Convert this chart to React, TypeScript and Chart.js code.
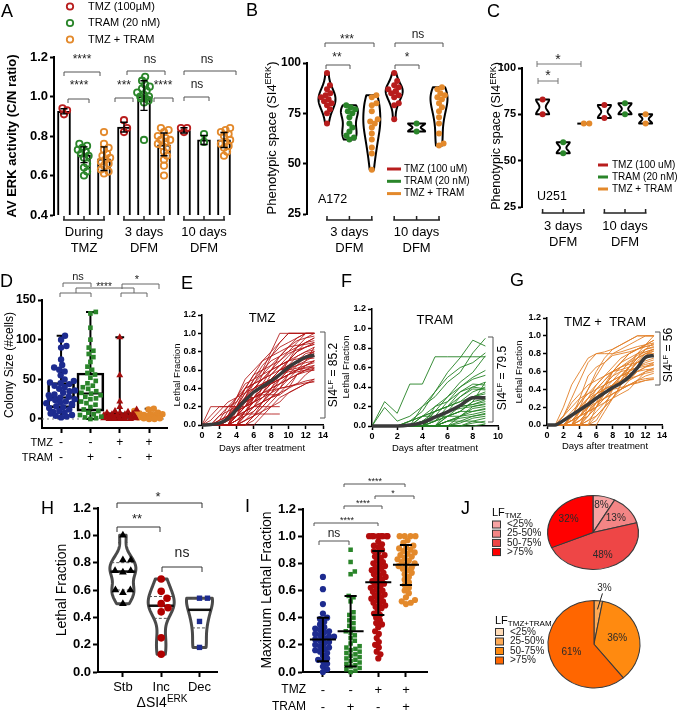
import React, { useEffect, useRef } from 'react';
import { Chart, registerables } from 'chart.js';

Chart.register(...registerables);

const FONT = "'Liberation Sans', Arial, Helvetica, sans-serif";
Chart.defaults.font.family = FONT;
Chart.defaults.color = '#000';

const RED = '#b81d1d';
const GREEN = '#2a852a';
const ORANGE = '#e3892b';
const NAVY = '#1d2b8f';
const TRIO = [RED, GREEN, ORANGE];

/* ---------------- A: average ERK activity ---------------- */
const aLegend = ['TMZ (100µM)', 'TRAM (20 nM)', 'TMZ + TRAM'];
const aGroups = [['During', 'TMZ'], ['3 days', 'DFM'], ['10 days', 'DFM']];
const aTicks = [0.4, 0.6, 0.8, 1.0, 1.2];
const aTmzDuring = [0.91, 0.94, 0.93];
const aTramDuring = [0.76, 0.75, 0.74, 0.73, 0.72, 0.72, 0.71, 0.7, 0.69, 0.66, 0.64, 0.62, 0.6];
const aComboDuring = [0.82, 0.76, 0.74, 0.73, 0.71, 0.7, 0.69, 0.68, 0.67, 0.66, 0.65, 0.63, 0.62, 0.61];
const aTmz3d = [0.82, 0.84, 0.88];
const aTram3d = [1.1, 1.08, 1.06, 1.05, 1.04, 1.03, 1.02, 1.01, 1.0, 1.0, 0.99, 0.99, 0.98, 0.97, 0.78];
const aCombo3d = [0.84, 0.83, 0.82, 0.8, 0.79, 0.78, 0.78, 0.77, 0.76, 0.75, 0.74, 0.72, 0.7, 0.68, 0.65, 0.6];
const aTmz10d = [0.82, 0.84, 0.84];
const aTram10d = [0.77, 0.81];
const aCombo10d = [0.84, 0.83, 0.82, 0.81, 0.8, 0.78, 0.77, 0.76, 0.75, 0.74, 0.72, 0.7];
const aMean = [0.925, 0.705, 0.685, 0.845, 1.0, 0.755, 0.828, 0.78, 0.78];
const aLow = [0.912, 0.665, 0.625, 0.82, 0.93, 0.7, 0.815, 0.757, 0.742];
const aHigh = [0.938, 0.745, 0.745, 0.87, 1.08, 0.815, 0.842, 0.803, 0.818];

/* ---------------- B: A172 phenotypic space ---------------- */
const bLegend = ['TMZ (100 uM)', 'TRAM (20 nM)', 'TMZ + TRAM'];
const bGroups = [['3 days', 'DFM'], ['10 days', 'DFM']];
const bTicks = [25, 50, 75, 100];
const bTmz3d = [95, 89, 87, 85, 84, 83, 82, 81, 80, 79, 77, 75, 70];
const bTram3d = [79, 78, 77, 76, 75, 73, 70, 68, 66, 64, 63, 62];
const bCombo3d = [84, 83, 80, 79, 76, 72, 71, 70, 68, 65, 62, 58, 55, 47];
const bTmz10d = [95, 91, 89, 88, 87, 86, 86, 85, 84, 83, 80, 79, 72];
const bTram10d = [70, 66];
const bCombo10d = [88, 87, 85, 84, 83, 82, 80, 78, 76, 73, 70, 65, 60, 59];

/* ---------------- C: U251 phenotypic space ---------------- */
const cTicks = [25, 50, 75, 100];
const cTmz3d = [83, 75];
const cTram3d = [60, 54];
const cCombo3d = [70, 70];
const cTmz10d = [80, 73];
const cTram10d = [81, 75];
const cCombo10d = [75, 70];

/* ---------------- D: colony size ---------------- */
const dTicks = [0, 50, 100, 150];
const dTmzSigns = ['-', '-', '+', '+'];
const dTramSigns = ['-', '+', '-', '+'];
const dControl = [105, 100, 92, 90, 75, 68, 65, 62, 60, 55, 50, 48, 46, 45, 44, 42, 40, 38, 36, 35, 33, 31, 30, 28, 27, 26, 25, 24, 22, 21, 20, 19, 18, 16, 15, 14, 12, 10, 9, 8, 7, 5, 4, 3, 2];
const dTram = [135, 133, 115, 100, 90, 86, 82, 78, 72, 66, 62, 58, 56, 52, 48, 45, 42, 40, 38, 35, 33, 32, 30, 28, 26, 25, 22, 20, 18, 15, 12, 10, 8, 6, 5, 3, 2, 1, 0];
const dTmz = [103, 55, 22, 15, 12, 10, 9, 8, 8, 7, 6, 6, 5, 5, 4, 4, 4, 3, 3, 3, 2, 2, 2, 1, 1, 1, 1, 0, 0, 0, 0, 0];
const dCombo = [13, 12, 10, 8, 7, 6, 6, 5, 5, 4, 4, 3, 3, 2, 2, 1, 1, 0, 0];
// min, q1, median, q3, max
const dControlBox = [2, 14, 27, 46, 105];
const dTramBox = [0, 10, 32, 58, 135];
const dTmzBox = [0, 0, 3, 8, 103];
const dComboBox = [0, 1, 4, 6, 13];

/* ---------------- E/F/G: lethal fraction over time (percent) ---------------- */
const lfTicks = [0, 0.2, 0.4, 0.6, 0.8, 1.0, 1.2];
const eDayTicks = [0, 2, 4, 6, 8, 10, 12, 14];
const fDayTicks = [0, 2, 4, 6, 8, 10];
const eTracesPct = [
  [0, 0, 0, 10, 20, 30, 40, 50, 60, 70, 80, 90, 100, 100],
  [0, 0, 5, 10, 20, 35, 45, 55, 65, 75, 85, 95, 100, 100],
  [0, 20, 20, 20, 25, 40, 55, 60, 70, 75, 80, 85, 90, 95],
  [0, 0, 0, 0, 10, 20, 40, 50, 55, 65, 70, 80, 85, 90],
  [0, 0, 10, 20, 30, 40, 45, 50, 60, 65, 70, 80, 85, 88],
  [0, 0, 0, 5, 15, 25, 35, 45, 50, 60, 70, 75, 80, 85],
  [0, 0, 0, 0, 0, 10, 30, 40, 50, 55, 60, 65, 70, 75],
  [0, 0, 0, 0, 20, 30, 30, 40, 45, 55, 60, 62, 65, 70],
  [0, 0, 0, 10, 25, 40, 55, 70, 80, 90, 100, 100, 100, 100],
  [0, 0, 0, 0, 5, 10, 20, 30, 40, 45, 50, 55, 60, 65],
  [0, 0, 0, 5, 10, 20, 25, 30, 35, 45, 55, 60, 62, 63],
  [0, 0, 0, 0, 0, 5, 15, 25, 35, 50, 60, 70, 75, 80],
  [0, 5, 15, 25, 30, 35, 40, 45, 50, 60, 65, 75, 80, 82],
  [0, 0, 0, 0, 10, 25, 30, 35, 38, 40, 42, 45, 48, 50],
  [0, 0, 0, 0, 0, 0, 10, 20, 30, 40, 55, 65, 75, 80],
  [0, 0, 0, 15, 30, 45, 50, 55, 60, 65, 70, 72, 75, 78],
  [0, 0, 0, 0, 5, 15, 25, 40, 55, 65, 75, 85, 90, 92],
  [0, 0, 0, 10, 15, 20, 25, 35, 45, 55, 65, 70, 72, 73],
  [0, 0, 0, 0, 0, 10, 20, 35, 50, 60, 70, 80, 90, 95],
  [0, 0, 10, 15, 20, 25, 30, 33, 33, 33, 40, 55, 60, 62],
  [0, 0, 0, 0, 15, 20, 25, 30, 40, 50, 55, 58, 60, 60],
  [0, 0, 0, 0, 0, 0, 5, 15, 25, 35, 45, 55, 65, 70],
  [0, 10, 20, 20, 20, 35, 50, 65, 75, 85, 90, 95, 100, 100],
  [0, 0, 0, 5, 10, 15, 20, 25, 30, 35, 40, 45, 55, 62],
  [0, 0, 0, 0, 10, 20, 30, 45, 60, 75, 85, 92, 95, 97],
  [0, 0, 0, 0, 0, 5, 10, 15, 20, 25, 35, 40, 45, 50],
  [0, 0, 0, 0, 10, 30, 50, 60, 65, 70, 78, 82, 85, 88],
  [0, 0, 0, 5, 20, 40, 45, 50, 55, 60, 62, 65, 68, 70],
  [0, 0, 0, 0, 0, 0, 0, 10, 20, 30, 35, 40, 45, 48],
  [0, 0, 0, 10, 20, 30, 40, 45, 50, 55, 58, 60, 63, 65],
  [0, 0, 0, 0, 5, 10, 15, 25, 40, 55, 70, 85, 95, 100],
  [0, 0, 5, 10, 15, 20, 30, 40, 50, 60, 65, 68, 72, 75],
  [0, 0, 0, 0, 0, 15, 25, 35, 45, 50, 55, 60, 70, 85],
  [0, 0, 0, 0, 20, 25, 30, 35, 40, 45, 50, 55, 58, 60],
  [0, 0, 0, 10, 30, 50, 60, 70, 75, 80, 85, 87, 88, 90],
  [0, 0, 0, 0, 0, 5, 10, 20, 30, 40, 50, 60, 65, 68],
  [0, 0, 0, 5, 15, 30, 45, 60, 80, 100, 100, 100, 100, 100],
  [0, 0, 0, 0, 10, 20, 35, 55, 75, 90, 100, 100, 100, 100],
  [0, 0, 0, 0, 10, 12, 12, 12, 12, 12],
  [0, 0, 0, 0, 0, 15, 20, 25, 30, 33],
  [0, 0, 0, 5, 10, 15, 20, 20, 20, 20],
  [0, 0, 5, 20, 20, 20, 30, 40, 45, 50, 55],
  [0, 0, 0, 0, 0, 0, 10, 25, 35, 40, 42, 44, 46, 47],
  [0, 0, 0, 0, 5, 15, 30, 40, 45, 50, 60, 70, 78, 80],
];
const eMean = [0, 0.005, 0.02, 0.07, 0.17, 0.27, 0.36, 0.42, 0.48, 0.55, 0.63, 0.69, 0.74, 0.76];

const fTracesPct = [
  [0, 25, 13, 43, 43, 71, 71, 71, 71, 71],
  [0, 19, 5, 10, 20, 30, 45, 55, 75, 90],
  [0, 0, 0, 5, 15, 35, 55, 70, 88, 82],
  [0, 0, 0, 0, 20, 35, 50, 60, 65, 75],
  [0, 0, 0, 0, 10, 20, 30, 45, 55, 72],
  [0, 0, 0, 5, 10, 15, 30, 40, 50, 57],
  [0, 0, 0, 0, 0, 10, 25, 40, 48, 52],
  [0, 0, 0, 0, 5, 15, 20, 30, 40, 45],
  [0, 0, 0, 0, 0, 5, 20, 35, 43, 42],
  [0, 0, 0, 0, 10, 15, 20, 25, 35, 40],
  [0, 0, 0, 0, 0, 5, 15, 30, 38, 37],
  [0, 0, 0, 0, 5, 10, 15, 20, 30, 35],
  [0, 0, 0, 0, 0, 0, 10, 20, 28, 30],
  [0, 0, 0, 0, 0, 5, 10, 15, 25, 28],
  [0, 0, 0, 0, 0, 10, 15, 20, 22, 25],
  [0, 0, 0, 0, 0, 0, 5, 10, 20, 22],
  [0, 0, 0, 0, 0, 0, 0, 10, 18, 20],
  [0, 0, 0, 0, 5, 5, 10, 15, 15, 18],
  [0, 0, 0, 0, 0, 0, 5, 10, 12, 15],
  [0, 0, 0, 0, 0, 0, 0, 5, 10, 13],
  [0, 0, 0, 0, 0, 0, 5, 8, 10, 12],
  [0, 0, 0, 0, 0, 0, 0, 3, 8, 10],
  [0, 0, 0, 0, 0, 0, 0, 0, 5, 8],
  [0, 0, 0, 0, 0, 0, 0, 0, 3, 5],
  [0, 0, 0, 0, 0, 0, 5, 5, 5, 3],
  [0, 0, 0, 5, 10, 10, 15, 18, 20, 23],
  [0, 0, 0, 0, 0, 15, 20, 25, 30, 33],
  [0, 0, 0, 0, 0, 0, 10, 15, 25, 45],
  [0, 0, 0, 0, 0, 0, 0, 0, 0, 2],
  [0, 0, 0, 0, 0, 10, 10, 10, 15, 17],
  [0, 0, 0, 0, 0, 20, 25, 35, 40, 38],
  [0, 0, 0, 0, 0, 0, 15, 20, 22, 27],
];
const fMean = [0, 0, 0, 0.01, 0.035, 0.09, 0.145, 0.21, 0.29, 0.29];

const gTracesPct = [
  [0, 0, 20, 45, 60, 75, 80, 82, 85, 90, 95, 100, 100, 100],
  [0, 0, 10, 30, 50, 70, 80, 80, 80, 82, 85, 88, 90, 92],
  [0, 0, 0, 10, 25, 40, 55, 70, 80, 85, 90, 95, 100, 100],
  [0, 0, 0, 5, 15, 25, 40, 50, 60, 70, 80, 85, 88, 90],
  [0, 0, 5, 15, 25, 35, 45, 55, 65, 75, 80, 85, 88, 90],
  [0, 0, 0, 0, 10, 20, 30, 45, 55, 65, 72, 78, 82, 85],
  [0, 0, 0, 10, 20, 30, 35, 40, 45, 55, 65, 75, 85, 92],
  [0, 0, 0, 0, 5, 15, 25, 35, 45, 55, 60, 65, 70, 73],
  [0, 0, 10, 20, 30, 35, 40, 45, 50, 55, 60, 65, 68, 70],
  [0, 0, 0, 0, 0, 10, 20, 30, 40, 50, 55, 60, 65, 67],
  [0, 0, 0, 5, 10, 15, 20, 30, 40, 50, 60, 70, 78, 83],
  [0, 0, 0, 0, 10, 25, 35, 40, 45, 50, 52, 55, 58, 60],
  [0, 0, 0, 0, 0, 5, 15, 25, 35, 40, 45, 50, 55, 58],
  [0, 0, 5, 10, 15, 20, 25, 30, 35, 40, 45, 50, 52, 53],
  [0, 0, 0, 0, 20, 40, 60, 75, 85, 90, 95, 100, 100, 100],
  [0, 0, 0, 0, 0, 0, 10, 20, 30, 40, 45, 48, 50, 52],
  [0, 0, 0, 5, 15, 30, 45, 55, 60, 65, 70, 75, 80, 80],
  [0, 0, 0, 0, 5, 10, 20, 40, 60, 70, 75, 80, 85, 87],
  [0, 0, 0, 0, 0, 15, 30, 40, 45, 48, 50, 55, 60, 62],
  [0, 0, 0, 10, 20, 25, 30, 35, 40, 50, 65, 75, 85, 88],
  [0, 0, 0, 0, 0, 0, 20, 35, 45, 55, 65, 75, 80, 83],
  [0, 0, 0, 0, 10, 20, 30, 35, 40, 42, 45, 47, 50, 51],
  [0, 0, 5, 10, 20, 30, 40, 50, 60, 65, 68, 70, 72, 75],
  [0, 0, 0, 0, 0, 10, 25, 45, 60, 70, 80, 85, 90, 95],
  [0, 0, 0, 5, 10, 20, 30, 40, 50, 60, 70, 80, 82, 85],
  [0, 0, 0, 0, 15, 25, 35, 45, 55, 60, 62, 64, 66, 68],
  [0, 0, 0, 0, 0, 5, 10, 20, 30, 45, 60, 72, 80, 85],
  [0, 0, 10, 25, 35, 45, 50, 55, 60, 62, 65, 70, 75, 78],
  [0, 0, 0, 0, 5, 15, 25, 30, 35, 40, 50, 60, 65, 70],
  [0, 0, 0, 0, 0, 0, 0, 15, 30, 45, 60, 70, 75, 80],
  [0, 0, 0, 5, 10, 15, 20, 25, 30, 35, 40, 50, 60, 64],
  [0, 0, 0, 0, 0, 20, 35, 45, 50, 55, 58, 60, 62, 63],
  [0, 0, 0, 8, 30, 55, 65, 70, 78, 80, 82, 85, 90, 95],
  [0, 0, 0, 0, 0, 0, 5, 20, 40, 55, 65, 80, 90, 100],
];
const gMean = [0, 0, 0.05, 0.11, 0.17, 0.23, 0.3, 0.36, 0.42, 0.47, 0.54, 0.64, 0.76, 0.78];

/* ---------------- H: lethal fraction by SI4 change ---------------- */
const hCategories = ['Stb', 'Inc', 'Dec'];
const hStable = [1.0, 0.82, 0.82, 0.74, 0.73, 0.74, 0.6, 0.6, 0.58, 0.5];
const hIncrease = [0.68, 0.59, 0.54, 0.5, 0.47, 0.44, 0.25, 0.13];
const hDecrease = [0.54, 0.54, 0.37, 0.18];

/* ---------------- I: maximum lethal fraction ---------------- */
const iTmzSigns = ['-', '-', '+', '+'];
const iTramSigns = ['-', '+', '-', '+'];
const iControl = [0.7, 0.61, 0.5, 0.43, 0.4, 0.39, 0.37, 0.35, 0.33, 0.32, 0.31, 0.3, 0.29, 0.28, 0.27, 0.26, 0.26, 0.25, 0.24, 0.23, 0.22, 0.21, 0.2, 0.19, 0.18, 0.17, 0.16, 0.15, 0.14, 0.12, 0.1, 0.09, 0.08, 0.06, 0.04, 0.02, 0.0];
const iTram = [0.9, 0.81, 0.74, 0.72, 0.56, 0.55, 0.52, 0.44, 0.42, 0.4, 0.38, 0.36, 0.34, 0.32, 0.3, 0.29, 0.27, 0.25, 0.23, 0.21, 0.19, 0.18, 0.17, 0.16, 0.15, 0.14, 0.13, 0.12, 0.11, 0.1, 0.09, 0.08, 0.07, 0.06, 0.05, 0.04, 0.03, 0.02, 0.01, 0.0];
const iTmz = [1, 1, 1, 1, 1, 1, 1, 1, 0.96, 0.94, 0.93, 0.92, 0.9, 0.89, 0.88, 0.86, 0.85, 0.84, 0.82, 0.81, 0.8, 0.79, 0.78, 0.77, 0.76, 0.75, 0.74, 0.73, 0.72, 0.71, 0.7, 0.69, 0.68, 0.67, 0.66, 0.65, 0.64, 0.63, 0.62, 0.61, 0.6, 0.59, 0.58, 0.57, 0.56, 0.55, 0.54, 0.53, 0.52, 0.51, 0.5, 0.49, 0.48, 0.47, 0.45, 0.43, 0.42, 0.4, 0.38, 0.36, 0.35, 0.33, 0.3, 0.28, 0.25, 0.22, 0.2, 0.18, 0.15, 0.13, 0.1];
const iCombo = [1.0, 1.0, 1.0, 1.0, 0.97, 0.95, 0.93, 0.92, 0.91, 0.9, 0.89, 0.88, 0.87, 0.86, 0.85, 0.84, 0.83, 0.82, 0.81, 0.8, 0.79, 0.78, 0.77, 0.76, 0.75, 0.73, 0.72, 0.7, 0.68, 0.66, 0.64, 0.62, 0.6, 0.58, 0.55, 0.53, 0.52, 0.51, 0.5];
const iMean = [0.24, 0.3, 0.66, 0.79];
const iLow = [0.08, 0.04, 0.42, 0.64];
const iHigh = [0.4, 0.56, 0.89, 0.935];

/* ---------------- J: lethal fraction distribution ---------------- */
const jBins = ['<25%', '25-50%', '50-75%', '>75%'];
const jTmzPct = [8, 13, 48, 32];
const jComboPct = [0, 3, 36, 61];
const jTmzColors = ['#f7a3a3', '#f38585', '#ee4646', '#ff0000'];
const jComboColors = ['#ffdcb8', '#ffaa55', '#ff8a10', '#ff6600'];

/* ================= helpers ================= */
type Rect = { x: number; y: number; w: number; h: number };
type Area = { l: number; t: number; r: number; b: number };
type Part = [string, string];

function txt(ctx: any, s: string, x: number, y: number, size: number, o: any = {}) {
  ctx.save();
  ctx.font = `${o.weight || 'normal'} ${size}px ${FONT}`;
  ctx.fillStyle = o.color || '#000';
  ctx.textAlign = o.align || 'center';
  ctx.textBaseline = 'middle';
  ctx.fillText(s, x, y);
  ctx.restore();
}

function rich(ctx: any, parts: Part[], x: number, y: number, size: number, o: any = {}) {
  ctx.save();
  ctx.translate(x, y);
  if (o.rotate) ctx.rotate(-Math.PI / 2);
  const small = Math.round(size * 0.7);
  const fontOf = (k: string) => `${o.weight || 'normal'} ${k === 'n' ? size : small}px ${FONT}`;
  let total = 0;
  parts.forEach(([s, k]) => { ctx.font = fontOf(k); total += ctx.measureText(s).width; });
  let cx = o.align === 'left' ? 0 : o.align === 'right' ? -total : -total / 2;
  ctx.fillStyle = o.color || '#000';
  ctx.textAlign = 'left';
  ctx.textBaseline = 'middle';
  parts.forEach(([s, k]) => {
    ctx.font = fontOf(k);
    const dy = k === 'sup' ? -size * 0.3 : k === 'sub' ? size * 0.25 : 0;
    ctx.fillText(s, cx, dy);
    cx += ctx.measureText(s).width;
  });
  ctx.restore();
}

function letter(ctx: any, s: string, x: number, y: number) {
  txt(ctx, s, x, y, 18, { align: 'left' });
}

function bracket(ctx: any, x1: number, x2: number, y: number, drop: number, color = '#555') {
  ctx.save();
  ctx.strokeStyle = color;
  ctx.lineWidth = 1;
  ctx.beginPath();
  ctx.moveTo(x1, y + drop);
  ctx.lineTo(x1, y);
  ctx.lineTo(x2, y);
  ctx.lineTo(x2, y + drop);
  ctx.stroke();
  ctx.restore();
}

function seg(ctx: any, x1: number, y1: number, x2: number, y2: number, color: string, lw: number, dash: number[] = []) {
  ctx.save();
  ctx.strokeStyle = color;
  ctx.lineWidth = lw;
  ctx.setLineDash(dash);
  ctx.beginPath();
  ctx.moveTo(x1, y1);
  ctx.lineTo(x2, y2);
  ctx.stroke();
  ctx.restore();
}

// significance label, y is the visual centre of the glyphs
function sig(ctx: any, label: string, x: number, y: number, size: number) {
  txt(ctx, label, x, y + (label.includes('*') ? 0.22 * size : 0), size, { color: '#222' });
}

function groupAxis(ctx: any, xs: number[], y: number, lines: string[], y1: number, y2: number, size: number) {
  const x1 = xs[0], x2 = xs[xs.length - 1];
  ctx.save();
  ctx.strokeStyle = '#222';
  ctx.lineWidth = 1.5;
  ctx.beginPath();
  ctx.moveTo(x1 - 1, y);
  ctx.lineTo(x2 + 1, y);
  xs.forEach((x) => { ctx.moveTo(x, y); ctx.lineTo(x, y - 4); });
  ctx.stroke();
  ctx.restore();
  txt(ctx, lines[0], (x1 + x2) / 2, y1, size);
  txt(ctx, lines[1], (x1 + x2) / 2, y2, size);
}

// beeswarm: horizontal offsets (x data units) so markers do not overlap, kept within a column width
function swarm(values: number[], pxPerY: number, diam: number, pxPerX: number, limit: number): number[] {
  const order = values.map((_, i) => i).sort((a, b) => values[a] - values[b]);
  const placed: { x: number; y: number }[] = [];
  const out: number[] = new Array(values.length).fill(0);
  let overflow = 0;
  for (const i of order) {
    const y = values[i] * pxPerY;
    const blocked: [number, number][] = [];
    for (const p of placed) {
      const dy = Math.abs(p.y - y);
      if (dy < diam) {
        const w = Math.sqrt(diam * diam - dy * dy);
        blocked.push([p.x - w, p.x + w]);
      }
    }
    const cands = [0];
    blocked.forEach(([a, b]) => cands.push(a, b));
    cands.sort((a, b) => Math.abs(a) - Math.abs(b) || b - a);
    let x = 0;
    for (const c of cands) {
      if (blocked.every(([a, b]) => c <= a + 1e-6 || c >= b - 1e-6)) { x = c; break; }
    }
    if (Math.abs(x) > limit) {
      overflow += 1;
      x = ((overflow * 0.618034) % 1) * 2 * limit - limit;
    }
    placed.push({ x, y });
    out[i] = x / pxPerX;
  }
  return out;
}

function quantile(vals: number[], q: number) {
  const s = [...vals].sort((a, b) => a - b);
  const pos = (s.length - 1) * q;
  const lo = Math.floor(pos), hi = Math.ceil(pos);
  return s[lo] + (s[hi] - s[lo]) * (pos - lo);
}

// kernel density outline truncated at the data range; returns half-width lookup (px)
function violin(ctx: any, h: any, xv: number, values: number[], factor: number, maxHalf: number, stroke: string, lw: number) {
  const lo = Math.min(...values), hi = Math.max(...values);
  const cx = h.X(xv);
  if (hi - lo < 1e-9) {
    seg(ctx, cx - maxHalf, h.Y(lo), cx + maxHalf, h.Y(lo), stroke, lw);
    return () => maxHalf;
  }
  const n = values.length;
  const mean = values.reduce((a, b) => a + b, 0) / n;
  const sd = Math.sqrt(values.reduce((a, b) => a + (b - mean) ** 2, 0) / (n - 1));
  const bw = n <= 2 ? 0.3 * (hi - lo) : factor * sd * Math.pow(n, -0.2);
  const dens = (y: number) => values.reduce((s, v) => s + Math.exp(-0.5 * ((y - v) / bw) ** 2), 0);
  const N = 90;
  const ys: number[] = [];
  const ds: number[] = [];
  for (let i = 0; i <= N; i++) {
    const y = lo + ((hi - lo) * i) / N;
    ys.push(y);
    ds.push(dens(y));
  }
  const dmax = Math.max(...ds);
  ctx.save();
  ctx.beginPath();
  ys.forEach((y, i) => {
    const px = cx - (ds[i] / dmax) * maxHalf;
    if (i === 0) ctx.moveTo(px, h.Y(y)); else ctx.lineTo(px, h.Y(y));
  });
  for (let i = N; i >= 0; i--) ctx.lineTo(cx + (ds[i] / dmax) * maxHalf, h.Y(ys[i]));
  ctx.closePath();
  ctx.fillStyle = '#fff';
  ctx.fill();
  ctx.strokeStyle = stroke;
  ctx.lineWidth = lw;
  ctx.lineJoin = 'round';
  ctx.stroke();
  ctx.restore();
  return (y: number) => (dens(y) / dmax) * maxHalf;
}

function segments(list: number[][]) {
  const data: any[] = [];
  list.forEach(([x1, y1, x2, y2]) => {
    data.push({ x: x1, y: y1 }, { x: x2, y: y2 }, { x: x2, y: null });
  });
  return data;
}

function lineSet(data: any[], color: string, width: number, order: number, extra: any = {}) {
  return { type: 'scatter', showLine: true, data, borderColor: color, borderWidth: width, pointRadius: 0, spanGaps: false, clip: false, order, ...extra };
}

function pointSet(values: number[], xc: number, offsets: number[], o: any) {
  return {
    type: 'scatter',
    data: values.map((v, k) => ({ x: xc + offsets[k], y: v })),
    pointStyle: o.shape || 'circle',
    pointRadius: o.r,
    pointBorderWidth: o.bw ?? 1,
    pointBorderColor: o.stroke,
    pointBackgroundColor: o.fill,
    clip: false,
    order: o.order ?? 1,
  };
}

function valueAxis(min: number, max: number, ticks: number[], width: number, size: number, digits: number, tickLen = 5, lw = 2, pad = 2) {
  return {
    type: 'linear',
    position: 'left',
    min,
    max,
    afterBuildTicks: (s: any) => { s.ticks = ticks.map((value) => ({ value })); },
    afterFit: (s: any) => { s.width = width; },
    ticks: { color: '#000', padding: pad, font: { family: FONT, size, weight: 'bold' }, callback: (v: any) => Number(v).toFixed(digits) },
    grid: { drawOnChartArea: false, drawTicks: true, tickLength: tickLen, tickWidth: lw, tickColor: '#000' },
    border: { display: true, color: '#000', width: lw },
  };
}

function hiddenAxis(min: number, max: number) {
  return { type: 'linear', min, max, display: false, offset: false, grid: { offset: false } };
}

function markAxis(min: number, max: number, ticks: number[], height: number, labels: string[] | null, size = 12, bold = false, tickLen = 5, lw = 2, pad = 3) {
  return {
    type: 'linear',
    position: 'bottom',
    min,
    max,
    offset: false,
    afterBuildTicks: (s: any) => { s.ticks = ticks.map((value) => ({ value })); },
    afterFit: (s: any) => { s.height = height; },
    ticks: {
      display: !!labels,
      color: '#000',
      padding: pad,
      maxRotation: 0,
      autoSkip: false,
      font: { family: FONT, size, weight: bold ? 'bold' : 'normal' },
      callback: (v: any) => (labels ? labels[ticks.indexOf(Number(v))] : ''),
    },
    grid: { drawOnChartArea: false, drawTicks: true, tickLength: tickLen, tickWidth: lw, tickColor: '#000', offset: false },
    border: { display: true, color: '#000', width: lw },
  };
}

function layoutFor(rect: Rect, area: Area, xH: number) {
  return { padding: { left: 0, top: area.t - rect.y, right: rect.x + rect.w - area.r, bottom: rect.y + rect.h - area.b - xH } };
}

function baseOptions(layout: any, scales: any) {
  return {
    responsive: false,
    animation: false,
    events: [],
    layout,
    plugins: { legend: { display: false }, tooltip: { enabled: false }, title: { display: false } },
    scales,
  };
}

// draws in page coordinates on top of a chart's own canvas
function overlay(rect: Rect, under: any, over: any) {
  const run = (chart: any, fn: any) => {
    if (!fn) return;
    const ctx = chart.ctx;
    const sx = chart.scales.x, sy = chart.scales.y;
    ctx.save();
    ctx.translate(-rect.x, -rect.y);
    fn(ctx, {
      chart,
      rect,
      X: (v: number) => (sx ? sx.getPixelForValue(v) : 0) + rect.x,
      Y: (v: number) => (sy ? sy.getPixelForValue(v) : 0) + rect.y,
    });
    ctx.restore();
  };
  return {
    id: 'overlay',
    beforeDatasetsDraw: (chart: any) => run(chart, under),
    afterDraw: (chart: any) => run(chart, over),
  };
}

/* ================= panels ================= */
const rectA: Rect = { x: 0, y: 0, w: 240, h: 256 };
const areaA: Area = { l: 54, t: 57, r: 234, b: 215 };

function makeA(canvas: HTMLCanvasElement) {
  const groups = [aTmzDuring, aTramDuring, aComboDuring, aTmz3d, aTram3d, aCombo3d, aTmz10d, aTram10d, aCombo10d];
  const pxX = (areaA.r - areaA.l) / 9;
  const pxY = (areaA.b - areaA.t) / 0.8;
  const datasets: any[] = [
    { type: 'bar', data: aMean.map((m, i) => ({ x: i, y: m })), backgroundColor: '#fff', borderColor: '#000', borderWidth: 2, barThickness: 13, order: 3 },
  ];
  groups.forEach((vals, i) => {
    const c = TRIO[i % 3];
    datasets.push(pointSet(vals, i, swarm(vals, pxY, 5, pxX, 7), { r: 3.2, bw: 1.8, stroke: c, fill: 'rgba(255,255,255,0)' }));
  });
  const err: number[][] = [];
  aMean.forEach((_, i) => {
    err.push([i, aLow[i], i, aHigh[i]], [i - 0.18, aHigh[i], i + 0.18, aHigh[i]], [i - 0.18, aLow[i], i + 0.18, aLow[i]]);
  });
  datasets.push(lineSet(segments(err), '#000', 1.4, 0));

  const draw = (ctx: any, h: any) => {
    letter(ctx, 'A', 1, 12);
    aLegend.forEach((s, i) => {
      const y = 6.5 + i * 16.5;
      ctx.save();
      ctx.beginPath();
      ctx.arc(70, y, 3.2, 0, Math.PI * 2);
      ctx.strokeStyle = TRIO[i];
      ctx.lineWidth = 1.8;
      ctx.stroke();
      ctx.restore();
      txt(ctx, s, 88, y, 11, { align: 'left' });
    });
    rich(ctx, [['AV ERK activity (C/N ratio)', 'n']], 12, 136, 13, { rotate: true, weight: 'bold' });
    aGroups.forEach((g, gi) => groupAxis(ctx, [h.X(gi * 3), h.X(gi * 3 + 1), h.X(gi * 3 + 2)], 220, g, 232, 248, 13));
    bracket(ctx, 64, 100, 72, 4); sig(ctx, '****', 82, 57, 12);
    bracket(ctx, 68, 89, 99, 4); sig(ctx, '****', 79, 83, 12);
    bracket(ctx, 127, 165, 71, 4); sig(ctx, 'ns', 150, 60, 12);
    bracket(ctx, 115, 133, 98, 4); sig(ctx, '***', 124, 83, 12);
    bracket(ctx, 154, 173, 98, 4); sig(ctx, '****', 163, 83, 12);
    bracket(ctx, 184, 236, 71, 4); sig(ctx, 'ns', 207, 60, 12);
    bracket(ctx, 184, 209, 97, 4); sig(ctx, 'ns', 197, 85, 12);
  };

  return new Chart(canvas, {
    type: 'scatter',
    data: { datasets },
    options: baseOptions(layoutFor(rectA, areaA, 0), {
      x: hiddenAxis(-0.5, 8.5),
      y: valueAxis(0.4, 1.2, aTicks, areaA.l - rectA.x, 13, 1, 4, 2, 2),
    }),
    plugins: [overlay(rectA, null, draw)],
  } as any);
}

const rectB: Rect = { x: 238, y: 0, w: 235, h: 256 };
const areaB: Area = { l: 307, t: 63, r: 450, b: 214 };
const bXMin = 1 - 20 / 22.4;
const bXMax = bXMin + (450 - 307) / 22.4;

function makeB(canvas: HTMLCanvasElement) {
  const groups = [bTmz3d, bTram3d, bCombo3d, bTmz10d, bTram10d, bCombo10d];
  const pxX = (areaB.r - areaB.l) / (bXMax - bXMin);
  const pxY = (areaB.b - areaB.t) / 75;
  const datasets: any[] = groups.map((vals, i) =>
    pointSet(vals, i + 1, swarm(vals, pxY, 5, pxX, 6), { r: 3, bw: 0, stroke: TRIO[i % 3], fill: TRIO[i % 3] }),
  );
  const under = (ctx: any, h: any) => {
    groups.forEach((vals, i) => violin(ctx, h, i + 1, vals, 0.9, 8.5, '#000', 2));
  };
  const draw = (ctx: any, h: any) => {
    letter(ctx, 'B', 246, 11);
    rich(ctx, [['Phenotypic space (SI4', 'n'], ['ERK', 'sup'], [')', 'n']], 272, 138, 13, { rotate: true });
    bGroups.forEach((g, gi) => groupAxis(ctx, [h.X(gi * 3 + 1), h.X(gi * 3 + 2), h.X(gi * 3 + 3)], 220, g, 232, 248, 13));
    txt(ctx, 'A172', 318, 200, 12.5, { align: 'left' });
    bLegend.forEach((s, i) => {
      const y = 169 + i * 12.3;
      seg(ctx, 387, y, 401, y, TRIO[i], 3);
      txt(ctx, s, 404, y, 10, { align: 'left' });
    });
    bracket(ctx, 325, 374, 43, 4); sig(ctx, '***', 347, 37, 12);
    bracket(ctx, 326, 350, 65, 4); sig(ctx, '**', 337, 55, 12);
    bracket(ctx, 395, 443, 43, 4); sig(ctx, 'ns', 418, 35, 12);
    bracket(ctx, 395, 419, 65, 4); sig(ctx, '*', 407, 55, 12);
  };
  return new Chart(canvas, {
    type: 'scatter',
    data: { datasets },
    options: baseOptions(layoutFor(rectB, areaB, 0), {
      x: hiddenAxis(bXMin, bXMax),
      y: valueAxis(25, 100, bTicks, areaB.l - rectB.x, 12, 0, 4, 2, 2),
    }),
    plugins: [overlay(rectB, under, draw)],
  } as any);
}

const rectC: Rect = { x: 460, y: 0, w: 217, h: 256 };
const areaC: Area = { l: 522, t: 68, r: 660, b: 207 };
const cXMax = (660 - 522) / 20.6;

function makeC(canvas: HTMLCanvasElement) {
  const groups = [cTmz3d, cTram3d, cCombo3d, cTmz10d, cTram10d, cCombo10d];
  const pxX = (areaC.r - areaC.l) / cXMax;
  const pxY = (areaC.b - areaC.t) / 75;
  const datasets: any[] = groups.map((vals, i) =>
    pointSet(vals, i + 1, swarm(vals, pxY, 5.5, pxX, 6), { r: 3, bw: 0, stroke: TRIO[i % 3], fill: TRIO[i % 3] }),
  );
  const under = (ctx: any, h: any) => {
    groups.forEach((vals, i) => violin(ctx, h, i + 1, vals, 0.9, 6.5, '#000', 2));
  };
  const capBar = (ctx: any, x1: number, x2: number, y: number) => {
    ctx.save();
    ctx.strokeStyle = '#777';
    ctx.lineWidth = 1;
    ctx.beginPath();
    ctx.moveTo(x1, y); ctx.lineTo(x2, y);
    ctx.moveTo(x1, y - 3); ctx.lineTo(x1, y + 3);
    ctx.moveTo(x2, y - 3); ctx.lineTo(x2, y + 3);
    ctx.stroke();
    ctx.restore();
  };
  const draw = (ctx: any, h: any) => {
    letter(ctx, 'C', 487, 12);
    rich(ctx, [['Phenotypic space (SI4', 'n'], ['ERK', 'sup'], [')', 'n']], 497, 136, 12.5, { rotate: true });
    [['3 days', 'DFM'], ['10 days', 'DFM']].forEach((g, gi) =>
      groupAxis(ctx, [h.X(gi * 3 + 1), h.X(gi * 3 + 2), h.X(gi * 3 + 3)], 213, g, 226, 242, 13),
    );
    txt(ctx, 'U251', 537, 197, 12.5, { align: 'left' });
    bLegend.forEach((s, i) => {
      const y = 165 + i * 12;
      seg(ctx, 598, y, 608, y, TRIO[i], 3);
      txt(ctx, s, 612, y, 10, { align: 'left' });
    });
    capBar(ctx, 537, 581, 64); sig(ctx, '*', 558, 57, 14);
    capBar(ctx, 538, 558, 81); sig(ctx, '*', 548, 73, 14);
  };
  return new Chart(canvas, {
    type: 'scatter',
    data: { datasets },
    options: baseOptions(layoutFor(rectC, areaC, 0), {
      x: hiddenAxis(0, cXMax),
      y: valueAxis(25, 100, cTicks, areaC.l - rectC.x, 11, 0, 4, 2, 2),
    }),
    plugins: [overlay(rectC, under, draw)],
  } as any);
}

const rectD: Rect = { x: 0, y: 262, w: 174, h: 208 };
const areaD: Area = { l: 42, t: 300, r: 167, b: 428 };
const dYMin = -11.35;

function makeD(canvas: HTMLCanvasElement) {
  const pxX = (areaD.r - areaD.l) / (4.61 - 0.35);
  const pxY = (areaD.b - areaD.t) / (150 - dYMin);
  const boxes = [dControlBox, dTramBox, dTmzBox, dComboBox];
  const datasets: any[] = [
    pointSet(dControl, 1, swarm(dControl, pxY, 5.6, pxX, 15), { r: 3.2, bw: 0, stroke: NAVY, fill: NAVY }),
    pointSet(dTram, 2, swarm(dTram, pxY, 5.6, pxX, 14), { r: 3.3, bw: 0, stroke: GREEN, fill: GREEN, shape: 'rect' }),
    pointSet(dTmz, 3, swarm(dTmz, pxY, 5.4, pxX, 17), { r: 4, bw: 0, stroke: '#a30d0d', fill: '#a30d0d', shape: 'triangle' }),
    pointSet(dCombo, 4, swarm(dCombo, pxY, 5.4, pxX, 15), { r: 3.2, bw: 0, stroke: ORANGE, fill: ORANGE }),
    {
      type: 'bar',
      data: boxes.map((b, i) => ({ x: i + 1, y: [b[1], b[3]] })),
      backgroundColor: 'rgba(255,255,255,0)',
      borderColor: '#000',
      borderWidth: 2,
      borderSkipped: false,
      barThickness: 27,
      order: 3,
    },
  ];
  const wh: number[][] = [];
  boxes.forEach((b, i) => {
    const x = i + 1;
    wh.push([x, b[0], x, b[1]], [x, b[3], x, b[4]], [x - 0.15, b[4], x + 0.15, b[4]], [x - 0.15, b[0], x + 0.15, b[0]], [x - 0.46, b[2], x + 0.46, b[2]]);
  });
  datasets.push(lineSet(segments(wh), '#000', 2, 2));
  datasets.push(lineSet([{ x: 0.35, y: 0 }, { x: 4.61, y: 0 }], '#777', 1, 4, { borderDash: [2, 3] }));

  const draw = (ctx: any, h: any) => {
    letter(ctx, 'D', 0, 282);
    rich(ctx, [['Colony Size (#cells)', 'n']], 10, 365, 12, { rotate: true });
    txt(ctx, 'TMZ', 53, 443, 11, { align: 'right' });
    txt(ctx, 'TRAM', 53, 458, 11, { align: 'right' });
    dTmzSigns.forEach((s, i) => txt(ctx, s, h.X(i + 1), 443, 12));
    dTramSigns.forEach((s, i) => txt(ctx, s, h.X(i + 1), 458, 12));
    bracket(ctx, 63, 91, 283, 4, '#666'); sig(ctx, 'ns', 78, 277, 11);
    bracket(ctx, 60, 91, 293, 4, '#666');
    bracket(ctx, 121, 147, 293, 4, '#666');
    seg(ctx, 76, 293, 76, 288, '#666', 1);
    seg(ctx, 134, 293, 134, 288, '#666', 1);
    seg(ctx, 76, 288, 134, 288, '#666', 1);
    sig(ctx, '****', 104, 285, 10);
    bracket(ctx, 122, 159, 284, 5, '#666'); sig(ctx, '*', 137, 278, 11);
  };
  return new Chart(canvas, {
    type: 'scatter',
    data: { datasets },
    options: baseOptions(layoutFor(rectD, areaD, 6), {
      x: markAxis(0.35, 4.61, [1, 2, 3, 4], 6, null),
      y: valueAxis(dYMin, 150, dTicks, areaD.l - rectD.x, 12, 0, 4, 2, 2),
    }),
    plugins: [overlay(rectD, null, draw)],
  } as any);
}

function makeTraces(canvas: HTMLCanvasElement, rect: Rect, area: Area, xMax: number, dayTicks: number[], traces: number[][], mean: number[], color: string, draw: any) {
  const datasets: any[] = traces.map((tr) =>
    lineSet(tr.map((v, d) => ({ x: d, y: v / 100 })), color, 1, 1, { clip: 4 }),
  );
  datasets.push(lineSet(mean.map((v, d) => ({ x: d, y: v })), '#3a3a3a', 3.5, 0, { cubicInterpolationMode: 'monotone' }));
  return new Chart(canvas, {
    type: 'scatter',
    data: { datasets },
    options: baseOptions(layoutFor(rect, area, 16), {
      x: markAxis(0, xMax, dayTicks, 16, dayTicks.map(String), 9, true, 4, 1.5, 1),
      y: valueAxis(0, 1.2, lfTicks, area.l - rect.x, 9, 1, 4, 1.5, 2),
    }),
    plugins: [overlay(rect, null, draw)],
  } as any);
}

function sideBracket(ctx: any, x: number, y1: number, y2: number) {
  ctx.save();
  ctx.strokeStyle = '#555';
  ctx.lineWidth = 1;
  ctx.beginPath();
  ctx.moveTo(x - 5, y1); ctx.lineTo(x, y1); ctx.lineTo(x, y2); ctx.lineTo(x - 5, y2);
  ctx.stroke();
  ctx.restore();
}

const rectE: Rect = { x: 172, y: 265, w: 168, h: 205 };
const areaE: Area = { l: 202, t: 315, r: 323, b: 425 };
function makeE(canvas: HTMLCanvasElement) {
  return makeTraces(canvas, rectE, areaE, 14, eDayTicks, eTracesPct, eMean, 'rgba(178,20,20,0.85)', (ctx: any) => {
    letter(ctx, 'E', 181, 284);
    txt(ctx, 'TMZ', 262, 318, 13);
    rich(ctx, [['Lethal Fraction', 'n']], 177, 375, 9.5, { rotate: true });
    txt(ctx, 'Days after treatment', 262, 448, 9.5);
    sideBracket(ctx, 325, 332, 418);
    rich(ctx, [['SI4', 'n'], ['LF', 'sup'], [' = 85.2', 'n']], 334, 375, 12, { rotate: true });
  });
}

const rectF: Rect = { x: 340, y: 265, w: 170, h: 205 };
const areaF: Area = { l: 372, t: 309, r: 498, b: 426 };
function makeF(canvas: HTMLCanvasElement) {
  return makeTraces(canvas, rectF, areaF, 10, fDayTicks, fTracesPct, fMean, 'rgba(36,130,36,0.9)', (ctx: any) => {
    letter(ctx, 'F', 341, 282);
    txt(ctx, 'TRAM', 435, 320, 13);
    rich(ctx, [['Lethal Fraction', 'n']], 346, 367, 9.5, { rotate: true });
    txt(ctx, 'Days after treatment', 435, 448, 9.5);
    sideBracket(ctx, 493, 337, 422);
    rich(ctx, [['SI4', 'n'], ['LF', 'sup'], [' = 79.5', 'n']], 503, 378, 12, { rotate: true });
  });
}

const rectG: Rect = { x: 510, y: 265, w: 167, h: 205 };
const areaG: Area = { l: 547, t: 318, r: 662, b: 425 };
function makeG(canvas: HTMLCanvasElement) {
  return makeTraces(canvas, rectG, areaG, 14, eDayTicks, gTracesPct, gMean, 'rgba(226,128,40,0.9)', (ctx: any) => {
    letter(ctx, 'G', 510, 281);
    txt(ctx, 'TMZ +  TRAM', 605, 322, 13);
    rich(ctx, [['Lethal Fraction', 'n']], 519, 372, 9.5, { rotate: true });
    txt(ctx, 'Days after treatment', 605, 446, 9.5);
    sideBracket(ctx, 660, 332, 385);
    rich(ctx, [['SI4', 'n'], ['LF', 'sup'], [' = 56', 'n']], 669, 355, 12, { rotate: true });
  });
}

const rectH: Rect = { x: 0, y: 470, w: 222, h: 244 };
const areaH: Area = { l: 98, t: 508, r: 218, b: 672 };
function makeH(canvas: HTMLCanvasElement) {
  const pxX = (areaH.r - areaH.l) / (3.47 - 0.35);
  const pxY = (areaH.b - areaH.t) / 1.2;
  const groups = [hStable, hIncrease, hDecrease];
  const datasets: any[] = [
    pointSet(hStable, 1, swarm(hStable, pxY, 8, pxX, 12), { r: 4.5, bw: 0, stroke: '#000', fill: '#000', shape: 'triangle' }),
    pointSet(hIncrease, 2, swarm(hIncrease, pxY, 8, pxX, 11), { r: 3.8, bw: 0, stroke: '#b00000', fill: '#b00000' }),
    pointSet(hDecrease, 3, swarm(hDecrease, pxY, 8, pxX, 11), { r: 3.8, bw: 0, stroke: NAVY, fill: NAVY, shape: 'rect' }),
  ];
  const under = (ctx: any, h: any) => {
    groups.forEach((vals, i) => {
      const half = violin(ctx, h, i + 1, vals, 0.7, 13, '#4a4a4a', 3);
      const cx = h.X(i + 1);
      const med = quantile(vals, 0.5);
      [0.25, 0.75].forEach((q) => {
        const v = quantile(vals, q);
        seg(ctx, cx - half(v), h.Y(v), cx + half(v), h.Y(v), '#555', 1, [3, 2]);
      });
      seg(ctx, cx - half(med), h.Y(med), cx + half(med), h.Y(med), '#111', 2.5);
    });
  };
  const draw = (ctx: any) => {
    letter(ctx, 'H', 41, 509);
    rich(ctx, [['Lethal Fraction', 'n']], 62, 590, 14, { rotate: true });
    rich(ctx, [['ΔSI4', 'n'], ['ERK', 'sup']], 162, 703, 14);
    bracket(ctx, 117, 202, 503, 5, '#333'); sig(ctx, '*', 158, 495, 13);
    bracket(ctx, 117, 160, 527, 5, '#333'); sig(ctx, '**', 137, 517, 13);
    bracket(ctx, 162, 202, 567, 5, '#333'); sig(ctx, 'ns', 182, 553, 14);
  };
  return new Chart(canvas, {
    type: 'scatter',
    data: { datasets },
    options: baseOptions(layoutFor(rectH, areaH, 24), {
      x: markAxis(0.35, 3.47, [1, 2, 3], 24, hCategories, 13),
      y: valueAxis(0, 1.2, lfTicks, areaH.l - rectH.x, 13, 1, 5, 2, 2),
    }),
    plugins: [overlay(rectH, under, draw)],
  } as any);
}

const rectI: Rect = { x: 222, y: 470, w: 218, h: 244 };
const areaI: Area = { l: 303, t: 509, r: 427, b: 672 };
function makeI(canvas: HTMLCanvasElement) {
  const pxX = (areaI.r - areaI.l) / (4.76 - 0.28);
  const pxY = (areaI.b - areaI.t) / 1.2;
  const datasets: any[] = [
    pointSet(iControl, 1, swarm(iControl, pxY, 5, pxX, 12), { r: 3.1, bw: 0, stroke: NAVY, fill: NAVY }),
    pointSet(iTram, 2, swarm(iTram, pxY, 5, pxX, 12), { r: 3.2, bw: 0, stroke: GREEN, fill: GREEN, shape: 'rect' }),
    pointSet(iTmz, 3, swarm(iTmz, pxY, 4.6, pxX, 12), { r: 3.1, bw: 0, stroke: '#b30d0d', fill: '#b30d0d' }),
    pointSet(iCombo, 4, swarm(iCombo, pxY, 5, pxX, 12), { r: 3.1, bw: 0, stroke: ORANGE, fill: ORANGE }),
  ];
  const err: number[][] = [];
  iMean.forEach((m, i) => {
    const x = i + 1;
    err.push([x - 0.47, m, x + 0.47, m], [x, iLow[i], x, iHigh[i]], [x - 0.22, iLow[i], x + 0.22, iLow[i]], [x - 0.22, iHigh[i], x + 0.22, iHigh[i]]);
  });
  datasets.push(lineSet(segments(err), '#000', 2, 0));
  const draw = (ctx: any, h: any) => {
    letter(ctx, 'I', 245, 507);
    rich(ctx, [['Maximum Lethal Fraction', 'n']], 267, 590, 14, { rotate: true });
    txt(ctx, 'TMZ', 306, 690, 12, { align: 'right' });
    txt(ctx, 'TRAM', 306, 707, 12, { align: 'right' });
    iTmzSigns.forEach((s, i) => txt(ctx, s, h.X(i + 1), 690, 13));
    iTramSigns.forEach((s, i) => txt(ctx, s, h.X(i + 1), 707, 13));
    bracket(ctx, 344, 405, 484, 3); sig(ctx, '****', 375, 480, 9);
    bracket(ctx, 375, 414, 496, 3); sig(ctx, '*', 393, 492, 9);
    bracket(ctx, 344, 382, 506, 3); sig(ctx, '****', 363, 502, 9);
    bracket(ctx, 314, 378, 523, 3); sig(ctx, '****', 347, 519, 9);
    bracket(ctx, 319, 349, 541, 4); sig(ctx, 'ns', 334, 534, 12);
  };
  return new Chart(canvas, {
    type: 'scatter',
    data: { datasets },
    options: baseOptions(layoutFor(rectI, areaI, 6), {
      x: markAxis(0.28, 4.76, [1, 2, 3, 4], 6, null),
      y: valueAxis(0, 1.2, lfTicks, areaI.l - rectI.x, 13, 1, 5, 2, 2),
    }),
    plugins: [overlay(rectI, null, draw)],
  } as any);
}

function ellipsePlugin(sx: number) {
  return {
    id: 'ellipse',
    beforeDatasetsDraw(chart: any) {
      const a = chart.getDatasetMeta(0).data[0];
      const ctx = chart.ctx;
      ctx.save();
      ctx.translate(a.x, a.y);
      ctx.scale(sx, 1);
      ctx.translate(-a.x, -a.y);
    },
    afterDatasetsDraw(chart: any) {
      chart.ctx.restore();
    },
  };
}

function pieLegend(ctx: any, sub: string, colors: string[], x: number, titleY: number, firstY: number, step: number, textX: number) {
  rich(ctx, [['LF', 'n'], [sub, 'sub']], x, titleY, 11, { align: 'left' });
  jBins.forEach((b, i) => {
    const y = firstY + i * step;
    ctx.save();
    ctx.fillStyle = colors[i];
    ctx.fillRect(x, y - 3.5, 9, 7);
    ctx.strokeStyle = '#333';
    ctx.lineWidth = 1;
    ctx.strokeRect(x + 0.5, y - 3.5, 8, 7);
    ctx.restore();
    txt(ctx, b, textX, y, 10, { align: 'left', color: '#222' });
  });
}

function makePie(canvas: HTMLCanvasElement, rect: Rect, area: Area, values: number[], colors: string[], sx: number, draw: any) {
  return new Chart(canvas, {
    type: 'pie',
    data: { labels: jBins, datasets: [{ data: values, backgroundColor: colors, borderColor: '#3a3a3a', borderWidth: 1, hoverOffset: 0 }] },
    options: {
      responsive: false,
      animation: false,
      events: [],
      layout: { padding: { left: area.l - rect.x, top: area.t - rect.y, right: rect.x + rect.w - area.r, bottom: rect.y + rect.h - area.b } },
      plugins: { legend: { display: false }, tooltip: { enabled: false } },
    },
    plugins: [ellipsePlugin(sx), overlay(rect, null, draw)],
  } as any);
}

const rectJ1: Rect = { x: 440, y: 470, w: 237, h: 112 };
const areaJ1: Area = { l: 555.5, t: 495, r: 630.5, b: 570 };
const sxJ1 = 46 / 37.5;
function makeJ1(canvas: HTMLCanvasElement) {
  return makePie(canvas, rectJ1, areaJ1, jTmzPct, jTmzColors, sxJ1, (ctx: any, h: any) => {
    letter(ctx, 'J', 461, 509);
    pieLegend(ctx, 'TMZ', jTmzColors, 492, 513, 524.5, 9.2, 507);
    h.chart.getDatasetMeta(0).data.forEach((a: any, i: number) => {
      const v = jTmzPct[i];
      if (!v) return;
      const mid = (a.startAngle + a.endAngle) / 2;
      const k = v < 10 ? 0.76 : 0.64;
      const cx = a.x + h.rect.x, cy = a.y + h.rect.y;
      txt(ctx, `${v}%`, cx + Math.cos(mid) * a.outerRadius * k * sxJ1, cy + Math.sin(mid) * a.outerRadius * k, 10, { color: '#2a2a2a' });
    });
  });
}

const rectJ2: Rect = { x: 440, y: 578, w: 237, h: 136 };
const areaJ2: Area = { l: 549.8, t: 600, r: 638.2, b: 688.4 };
const sxJ2 = 46.5 / 44.2;
function makeJ2(canvas: HTMLCanvasElement) {
  return makePie(canvas, rectJ2, areaJ2, jComboPct, jComboColors, sxJ2, (ctx: any, h: any) => {
    pieLegend(ctx, 'TMZ+TRAM', jComboColors, 495, 621, 632, 9.5, 510);
    h.chart.getDatasetMeta(0).data.forEach((a: any, i: number) => {
      const v = jComboPct[i];
      if (!v) return;
      const mid = (a.startAngle + a.endAngle) / 2;
      const cx = a.x + h.rect.x, cy = a.y + h.rect.y;
      const R = a.outerRadius;
      if (v < 5) {
        const x0 = cx + Math.cos(mid) * R * 0.8 * sxJ2;
        const y0 = cy + Math.sin(mid) * R * 0.8;
        seg(ctx, x0, y0, x0 + 5, y0 - 16, '#222', 1);
        txt(ctx, `${v}%`, x0 + 7, y0 - 21, 10, { color: '#2a2a2a' });
      } else {
        txt(ctx, `${v}%`, cx + Math.cos(mid) * R * 0.52 * sxJ2, cy + Math.sin(mid) * R * 0.52, 10, { color: '#2a2a2a' });
      }
    });
  });
}

const PANELS = [
  { id: 'A', rect: rectA, build: makeA },
  { id: 'B', rect: rectB, build: makeB },
  { id: 'C', rect: rectC, build: makeC },
  { id: 'D', rect: rectD, build: makeD },
  { id: 'E', rect: rectE, build: makeE },
  { id: 'F', rect: rectF, build: makeF },
  { id: 'G', rect: rectG, build: makeG },
  { id: 'H', rect: rectH, build: makeH },
  { id: 'I', rect: rectI, build: makeI },
  { id: 'J1', rect: rectJ1, build: makeJ1 },
  { id: 'J2', rect: rectJ2, build: makeJ2 },
];

function ChartCanvas({ r, build }: { r: Rect; build: (c: HTMLCanvasElement) => Chart }) {
  const ref = useRef<HTMLCanvasElement | null>(null);
  useEffect(() => {
    const chart = build(ref.current as HTMLCanvasElement);
    return () => chart.destroy();
  }, [build]);
  return (
    <canvas
      ref={ref}
      width={r.w}
      height={r.h}
      style={{ position: 'absolute', left: r.x, top: r.y, width: r.w, height: r.h }}
    />
  );
}

export default function App() {
  return (
    <div style={{ position: 'absolute', left: 0, top: 0, width: 677, height: 714, background: '#fff', overflow: 'hidden' }}>
      {PANELS.map((p) => (
        <ChartCanvas key={p.id} r={p.rect} build={p.build} />
      ))}
    </div>
  );
}
